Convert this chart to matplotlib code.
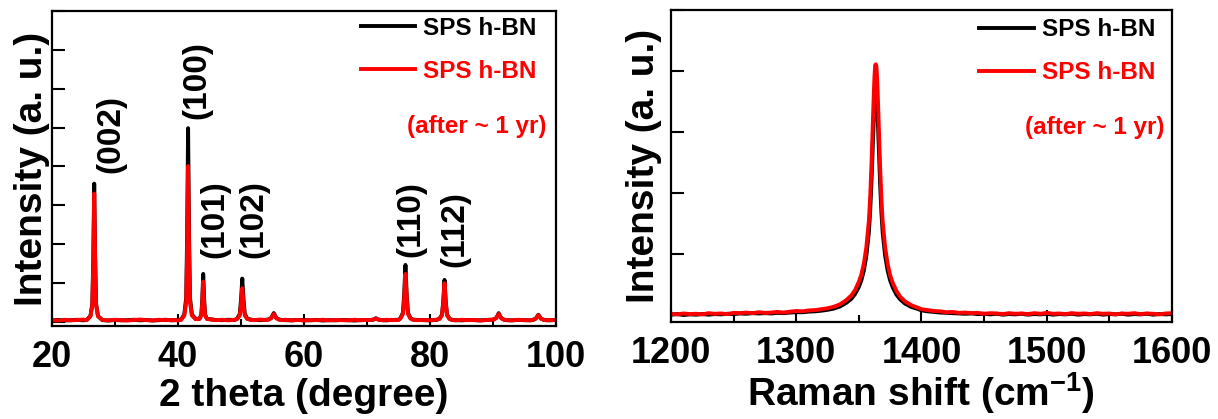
import matplotlib
matplotlib.use('Agg')
import matplotlib.pyplot as plt
from matplotlib.ticker import MultipleLocator, NullFormatter

plt.rcParams['font.family'] = ['Liberation Sans', 'DejaVu Sans']
plt.rcParams['font.weight'] = 'bold'
plt.rcParams['mathtext.fontset'] = 'custom'
plt.rcParams['mathtext.rm'] = 'Liberation Sans:bold'
plt.rcParams['mathtext.bf'] = 'Liberation Sans:bold'
plt.rcParams['mathtext.default'] = 'bf'

# ---------------- XRD data ----------------
xrd_2theta = [
    20, 21, 22, 23, 24, 25, 25.5,
    26.1, 26.4, 26.55, 26.7, 26.85, 27.0, 27.3,
    28, 29, 30, 31, 32, 33, 34, 35, 36, 37, 38, 39, 40, 40.5,
    41.0, 41.3, 41.45, 41.6, 41.75, 41.9, 42.2,
    42.8,
    43.4, 43.7, 43.85, 44.0, 44.15, 44.3, 44.6,
    45.3, 46, 47, 48, 49,
    49.4, 49.8, 50.0, 50.2, 50.4, 50.6, 51.0,
    51.5, 52, 53, 54,
    54.4, 54.8, 55.0, 55.2, 55.4, 55.6, 56.0,
    56.5, 57, 58, 59, 60, 61, 62, 63, 64, 65, 66, 67, 68, 69, 70,
    70.6, 71.0, 71.2, 71.4, 71.6, 71.8, 72.2,
    72.5, 73, 74, 75,
    75.3, 75.7, 75.9, 76.1, 76.3, 76.5, 76.9,
    77.3, 78, 79, 80, 81,
    81.5, 81.9, 82.1, 82.3, 82.5, 82.7, 83.1,
    83.5, 84, 85, 86, 87, 88, 89,
    90.1, 90.5, 90.7, 90.9, 91.1, 91.3, 91.7,
    92, 93, 94, 95, 96,
    96.4, 96.8, 97.0, 97.2, 97.4, 97.6, 98.0,
    98.5, 99, 100,
]
xrd_black = [
    35, 45, 30, 40, 50, 35, 45,
    145, 460, 1620, 3556, 1620, 460, 145,
    40, 30, 45, 35, 40, 50, 35, 45, 30, 40, 50, 35, 45, 55,
    190, 620, 2260, 4983, 2260, 620, 190,
    70,
    75, 180, 570, 1231, 570, 180, 75,
    60, 45, 40, 50, 45,
    80, 200, 560, 1111, 560, 200, 80,
    55, 45, 40, 50,
    60, 100, 160, 222, 160, 100, 60,
    45, 40, 35, 45, 40, 35, 45, 30, 40, 35, 45, 40, 30, 40, 45,
    45, 55, 70, 90, 70, 55, 45,
    40, 35, 45, 50,
    90, 230, 700, 1462, 700, 230, 90,
    55, 45, 40, 35, 45,
    75, 180, 520, 1077, 520, 180, 75,
    50, 40, 35, 45, 40, 35, 45,
    55, 95, 150, 220, 150, 95, 55,
    40, 35, 45, 40, 35,
    50, 85, 130, 180, 130, 85, 50,
    40, 35, 45,
]
xrd_red = [
    40, 30, 50, 35, 45, 55, 40,
    140, 430, 1500, 3300, 1500, 430, 140,
    45, 35, 50, 40, 30, 45, 55, 40, 35, 50, 40, 45, 35, 50,
    160, 510, 1820, 4009, 1820, 510, 160,
    65,
    70, 160, 480, 1034, 480, 160, 70,
    55, 40, 50, 35, 50,
    70, 160, 430, 863, 430, 160, 70,
    50, 40, 55, 45,
    55, 90, 145, 200, 145, 90, 55,
    40, 50, 35, 45, 30, 45, 40, 50, 35, 45, 40, 35, 50, 40, 45,
    45, 55, 65, 80, 65, 55, 45,
    35, 50, 40, 45,
    80, 200, 590, 1231, 590, 200, 80,
    50, 40, 45, 35, 50,
    70, 170, 480, 991, 480, 170, 70,
    45, 35, 50, 40, 45, 30, 45,
    55, 90, 140, 200, 140, 90, 55,
    45, 35, 50, 40, 40,
    50, 80, 125, 170, 125, 80, 50,
    35, 45, 40,
]
peak_labels = ['(002)', '(100)', '(101)', '(102)', '(110)', '(112)']

# ---------------- Raman data ----------------
raman_shift = [
    1200, 1205, 1210, 1215, 1220, 1225, 1230, 1235, 1240, 1245,
    1250, 1255, 1260, 1265, 1270, 1275, 1280, 1285, 1290, 1295,
    1300, 1305, 1310, 1315, 1320, 1325, 1330, 1335, 1340,
    1344, 1347, 1350, 1352, 1354, 1356, 1358, 1359, 1360, 1361,
    1361.5, 1362, 1362.5, 1363, 1363.5, 1364, 1364.5, 1365, 1365.5, 1366,
    1367, 1368, 1369, 1371, 1373, 1375, 1377, 1380, 1383, 1387, 1392, 1397,
    1400, 1405, 1410, 1415, 1420, 1425, 1430, 1435, 1440, 1445,
    1450, 1455, 1460, 1465, 1470, 1475, 1480, 1485, 1490, 1495,
    1500, 1505, 1510, 1515, 1520, 1525, 1530, 1535, 1540, 1545,
    1550, 1555, 1560, 1565, 1570, 1575, 1580, 1585, 1590, 1595, 1600,
]
raman_black = [
    5, 15, 0, 10, 5, 15, 5, 15, 10, 20,
    15, 25, 20, 30, 25, 30, 25, 35, 30, 40,
    45, 45, 55, 60, 70, 85, 105, 140, 200,
    265, 345, 460, 570, 730, 975, 1360, 1690, 2140, 2710,
    3000, 3270, 3495, 3660, 3690, 3655, 3490, 3265, 2995, 2705,
    2135, 1685, 1355, 970, 725, 565, 455, 335, 255, 185, 130, 100,
    75, 60, 50, 40, 35, 30, 25, 20, 25, 15,
    20, 10, 20, 5, 15, 10, 20, 5, 15, 10,
    20, 5, 15, 10, 20, 5, 15, 10, 20, 5,
    15, 10, 20, 5, 15, 10, 20, 5, 15, 10, 15,
]
raman_red = [
    20, 10, 25, 15, 20, 10, 30, 20, 25, 15,
    35, 30, 40, 30, 45, 35, 40, 50, 40, 55,
    65, 60, 75, 80, 95, 110, 135, 175, 245,
    320, 410, 545, 665, 845, 1115, 1545, 1915, 2415, 3045,
    3365, 3665, 3915, 4090, 4110, 4085, 3910, 3660, 3360, 3040,
    2410, 1905, 1535, 1105, 835, 650, 530, 395, 300, 220, 160, 120,
    95, 80, 65, 60, 45, 50, 35, 40, 30, 35,
    20, 30, 25, 15, 30, 20, 25, 15, 30, 20,
    35, 20, 25, 15, 30, 20, 25, 15, 30, 20,
    25, 10, 25, 20, 30, 15, 25, 20, 10, 25, 30,
]

series_name = 'SPS h-BN'
aged_note = '(after ~ 1 yr)'

fig = plt.figure(figsize=(12.18, 4.19), dpi=100)
ax1 = fig.add_axes([0.0427, 0.2220, 0.4138, 0.7517])
ax2 = fig.add_axes([0.5509, 0.2315, 0.4113, 0.7446])

LW = 2.8
ax1.plot(xrd_2theta, xrd_black, color='black', lw=LW, label=series_name)
ax1.plot(xrd_2theta, xrd_red, color='red', lw=LW, label=series_name)
ax2.plot(raman_shift, raman_black, color='black', lw=LW, label=series_name)
ax2.plot(raman_shift, raman_red, color='red', lw=LW, label=series_name)

# peak labels (layout positions)
label_x = [29.4, 43.0, 45.9, 52.0, 77.0, 84.0]
label_y = [3820, 5230, 1640, 1640, 1670, 1410]
for lab, lx, ly in zip(peak_labels, label_x, label_y):
    ax1.text(lx, ly, lab, rotation=90, ha='center', va='bottom',
             fontsize=24, fontweight='bold')

ax1.set_xlim(20, 100)
ax1.set_ylim(-110, 8000)
ax1.xaxis.set_major_locator(MultipleLocator(20))
ax1.xaxis.set_minor_locator(MultipleLocator(10))
ax1.yaxis.set_major_locator(MultipleLocator(1000))

ax2.set_xlim(1200, 1600)
ax2.set_ylim(-115, 5000)
ax2.xaxis.set_major_locator(MultipleLocator(100))
ax2.xaxis.set_minor_locator(MultipleLocator(50))
ax2.yaxis.set_major_locator(MultipleLocator(1000))

for ax in (ax1, ax2):
    ax.yaxis.set_major_formatter(NullFormatter())
    ax.tick_params(which='major', direction='in', length=9, width=1.5,
                   labelsize=26, pad=10)
    ax.tick_params(which='minor', direction='in', length=5, width=1.5)
    ax.tick_params(axis='y', which='both', left=True, right=False)
    ax.tick_params(axis='x', which='both', bottom=True, top=False)
    for sp in ax.spines.values():
        sp.set_linewidth(1.6)
    for t in ax.get_xticklabels():
        t.set_fontweight('bold')

ax1.set_xlabel('2 theta (degree)', fontsize=28, fontweight='bold')
ax1.set_ylabel('Intensity (a. u.)', fontsize=28, fontweight='bold')
ax1.xaxis.set_label_coords(0.499, -0.165)
ax1.yaxis.set_label_coords(-0.004, 0.5)

ax2.set_xlabel(r'Raman shift (cm$^{-1}$)', fontsize=28, fontweight='bold')
ax2.set_ylabel('Intensity (a. u.)', fontsize=28, fontweight='bold')
ax2.xaxis.set_label_coords(0.499, -0.155)
ax2.yaxis.set_label_coords(-0.018, 0.5)

leg_kw = dict(loc='upper right', frameon=False,
              handlelength=2.26, handletextpad=0.33, labelspacing=0.82,
              borderpad=0, borderaxespad=0, labelcolor=['black', 'red'],
              prop={'weight': 'bold', 'size': 17.5})
ax1.legend(bbox_to_anchor=(0.962, 0.981), **leg_kw)
ax2.legend(bbox_to_anchor=(0.966, 0.974), **leg_kw)

ax1.text(0.982, 0.632, aged_note, transform=ax1.transAxes, ha='right',
         va='center', color='red', fontsize=17.5, fontweight='bold')
ax2.text(0.986, 0.625, aged_note, transform=ax2.transAxes, ha='right',
         va='center', color='red', fontsize=17.5, fontweight='bold')

fig.savefig('out.png', dpi=100)
